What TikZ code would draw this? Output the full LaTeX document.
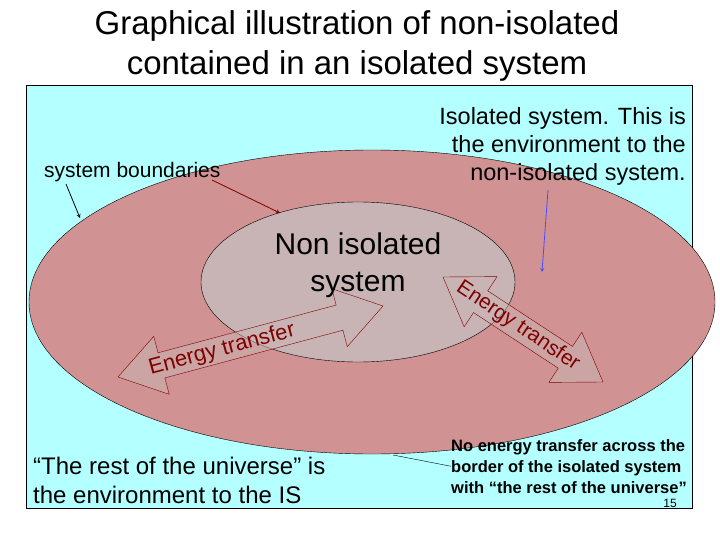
\documentclass[tikz,border=0pt]{standalone}
\usepackage{fontspec}
\setmainfont{Liberation Sans}
\usetikzlibrary{calc}
\definecolor{cyanbg}{RGB}{180,255,255}
\definecolor{outerc}{RGB}{208,146,146}
\definecolor{innerc}{RGB}{200,180,180}
\definecolor{dred}{RGB}{128,0,0}
\tikzset{txt/.style={inner sep=0pt,font=\fontsize{17}{20}\selectfont},
 arr/.style={draw=dred,fill=innerc,fill opacity=0.55}}
\newcommand\dblarrow[2]{%
\draw[arr] (#1)
 -- ($ ($(#1)!45pt!(#2)$)!30pt!90:(#2) $)
 -- ($ ($(#1)!45pt!(#2)$)!13pt!90:(#2) $)
 -- ($ ($(#2)!45pt!(#1)$)!13pt!-90:(#1) $)
 -- ($ ($(#2)!45pt!(#1)$)!30pt!-90:(#1) $)
 -- (#2)
 -- ($ ($(#2)!45pt!(#1)$)!30pt!90:(#1) $)
 -- ($ ($(#2)!45pt!(#1)$)!13pt!90:(#1) $)
 -- ($ ($(#1)!45pt!(#2)$)!13pt!-90:(#2) $)
 -- ($ ($(#1)!45pt!(#2)$)!30pt!-90:(#2) $)
 -- cycle;}
\begin{document}
\begin{tikzpicture}[x=1pt,y=-1pt]
\useasboundingbox (0,0) rectangle (720,540);
\fill[white] (0,0) rectangle (720,540);
\node[inner sep=0pt,align=center,font=\fontsize{33}{40}\selectfont] (title) at (357,46) {Graphical illustration of non-isolated\\contained in an isolated system};
\draw[fill=cyanbg] (26,85) rectangle (692,508);
\draw[fill=outerc] (372,302) ellipse [x radius=343,y radius=152];
\draw[fill=innerc] (358,282) ellipse [x radius=157,y radius=80];
\coordinate (l1) at (118,377);
\coordinate (l2) at (383,306);
\coordinate (r1) at (443,277);
\coordinate (r2) at (603,382);
\dblarrow{l1}{l2}
\dblarrow{r1}{r2}
\node[txt,rotate=15,text=dred,font=\fontsize{22}{24}\selectfont] (t1) at (222,350) {Energy transfer};
\node[txt,rotate=-34,text=dred,font=\fontsize{21}{24}\selectfont] (t2) at (518,326) {Energy transfer};
\node[txt,align=center,font=\fontsize{30}{37}\selectfont] (nis) at (358,265) {Non isolated\\system};
\node[txt,anchor=west,font=\fontsize{21}{24}\selectfont] (sb) at (44,172) {system boundaries};
\coordinate (sb1) at (80,218);
\coordinate (sb2) at (280,213);
\draw[-stealth,thick] (66,184) -- (sb1);
\draw[-stealth,thick,dred] (212,180) -- (sb2);
\node[txt,align=right,anchor=north east,font=\fontsize{23.5}{28}\selectfont] (iso) at (686,107) {Isolated system. This is\\the environment to the\\non-isolated system.};
\coordinate (bl) at (542,272);
\draw[-stealth,thick,blue!70] (548,190) -- (bl);
\node[txt,align=left,anchor=north west,font=\fontsize{24}{29}\selectfont] (rest) at (33,457) {“The rest of the universe” is\\the environment to the IS};
\node[txt,align=left,anchor=north west,font=\bfseries\fontsize{16.5}{21}\selectfont] (no) at (451,439) {No energy transfer across the\\border of the isolated system\\with “the rest of the universe”};
\draw (393,455) -- (no.west);
\node[txt,font=\fontsize{12}{12}\selectfont] (pg) at (670,503) {15};
\end{tikzpicture}
\end{document}
